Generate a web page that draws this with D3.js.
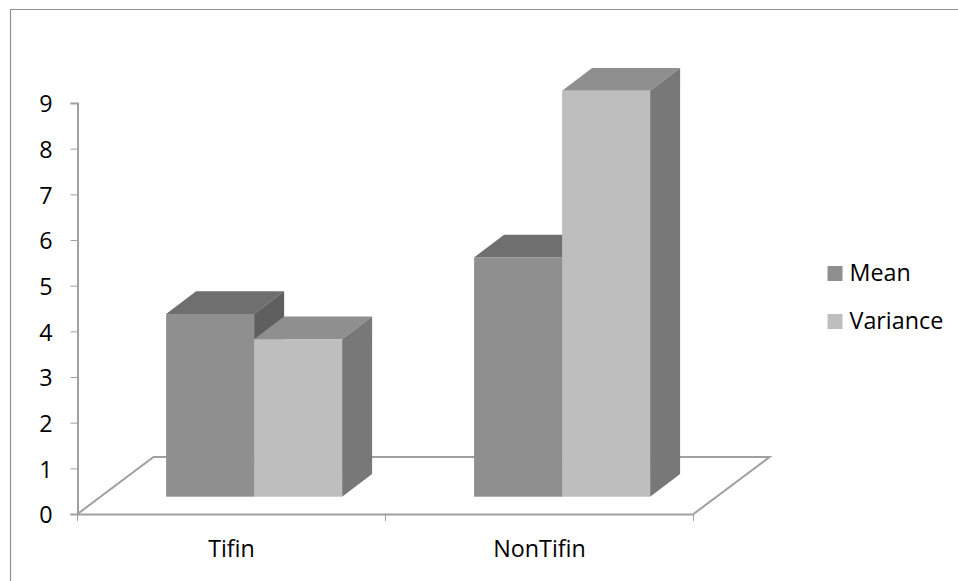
<!DOCTYPE html>
<html>
<head>
<meta charset="utf-8">
<script src="https://cdn.jsdelivr.net/npm/d3@7"></script>
<style>
  body { margin: 0; background: #fff; }
  svg { display: block; }
  text { font-family: "Open Sans", sans-serif; fill: #000; }
</style>
</head>
<body>
<svg id="chart"></svg>
<script>
const categories = ['Tifin', 'NonTifin'];
const series_names = ['Mean', 'Variance'];
const mean_values = [4.0, 5.24];
const variance_values = [3.45, 8.89];
const y_ticks = [0, 1, 2, 3, 4, 5, 6, 7, 8, 9];

const width = 958, height = 581;
const axis_color = '#a0a0a0';
const font_size = 23.3;

// front, top and side shade of each series
const shades = {
    Mean: { front: '#8f8f8f', top: '#6f6f6f', side: '#5f5f5f' },
    Variance: { front: '#bebebe', top: '#8f8f8f', side: '#787878' }
};

// 3d offsets: the floor depth and the bar depth
const floor_depth = { x: 76, y: 57 };
const bar_depth = { x: 30, y: 22.7 };
const bar_lift = 17.3;

const svg = d3.select('#chart')
    .attr('width', width)
    .attr('height', height);

// outer frame, only top and left show in the window
svg.append('path')
    .attr('d', 'M10.5,581V9.5H958')
    .attr('fill', 'none')
    .attr('stroke', '#929292')
    .attr('stroke-width', 1.2);

const xscale = d3.scaleBand()
    .domain(categories)
    .range([77.5, 693.5]);

const xinner = d3.scaleBand()
    .domain(series_names)
    .range([88.6, 264.6]);

const yscale = d3.scaleLinear()
    .domain([0, 9])
    .range([514, 103]);

const x_left = xscale.range()[0], x_right = xscale.range()[1], y_zero = yscale(0);

// floor
svg.append('path')
    .attr('d', d3.line()([
        [x_left, y_zero],
        [x_left + floor_depth.x, y_zero - floor_depth.y],
        [x_right + floor_depth.x, y_zero - floor_depth.y],
        [x_right, y_zero]
    ]))
    .attr('fill', 'none')
    .attr('stroke', axis_color)
    .attr('stroke-width', 2);

// y axis
const yaxis_group = svg.append('g')
    .attr('transform', `translate(${x_left}, 0)`)
    .call(d3.axisLeft(yscale).tickValues(y_ticks).tickFormat(d3.format('d')).tickSize(7).tickPadding(18));
yaxis_group.selectAll('text').attr('font-size', font_size).attr('dy', '0.38em');
yaxis_group.selectAll('line').attr('stroke', axis_color);
yaxis_group.select('.domain').attr('stroke', axis_color).attr('stroke-width', 2);

// x axis, labels sit mid band and ticks on the band edges
const xaxis_group = svg.append('g')
    .attr('transform', `translate(0, ${y_zero})`)
    .call(d3.axisBottom(xscale).tickSize(0).tickPadding(26));
xaxis_group.selectAll('text').attr('font-size', font_size);
xaxis_group.select('.domain').attr('stroke', axis_color).attr('stroke-width', 2);

svg.append('g').selectAll('line')
    .data(d3.range(categories.length + 1))
    .join('line')
    .attr('x1', d => x_left + d * xscale.step())
    .attr('x2', d => x_left + d * xscale.step())
    .attr('y1', y_zero)
    .attr('y2', y_zero + 7)
    .attr('stroke', axis_color);

// bars
const bars = [];
categories.forEach((c, i) => {
    bars.push({ category: c, name: 'Mean', value: mean_values[i] });
    bars.push({ category: c, name: 'Variance', value: variance_values[i] });
});

const bar_group = svg.append('g').selectAll('g')
    .data(bars)
    .join('g');

const left = d => xscale(d.category) + xinner(d.name);
const right = d => left(d) + xinner.bandwidth();
const top_y = d => yscale(d.value) - bar_lift;
const base_y = yscale(0) - bar_lift;

bar_group.append('polygon')
    .attr('points', d => [
        [left(d), top_y(d)],
        [left(d) + bar_depth.x, top_y(d) - bar_depth.y],
        [right(d) + bar_depth.x, top_y(d) - bar_depth.y],
        [right(d), top_y(d)]
    ].join(' '))
    .attr('fill', d => shades[d.name].top);

bar_group.append('polygon')
    .attr('points', d => [
        [right(d), top_y(d)],
        [right(d) + bar_depth.x, top_y(d) - bar_depth.y],
        [right(d) + bar_depth.x, base_y - bar_depth.y],
        [right(d), base_y]
    ].join(' '))
    .attr('fill', d => shades[d.name].side);

bar_group.append('rect')
    .attr('x', left)
    .attr('y', top_y)
    .attr('width', xinner.bandwidth())
    .attr('height', d => base_y - top_y(d))
    .attr('fill', d => shades[d.name].front);

// legend
const legend = svg.append('g').selectAll('g')
    .data(series_names)
    .join('g')
    .attr('transform', (d, i) => `translate(827.5, ${266 + i * 48})`);

legend.append('rect')
    .attr('width', 15)
    .attr('height', 15)
    .attr('fill', d => shades[d].front);

legend.append('text')
    .attr('x', 22)
    .attr('y', 15)
    .attr('font-size', font_size)
    .text(d => d);
</script>
</body>
</html>
